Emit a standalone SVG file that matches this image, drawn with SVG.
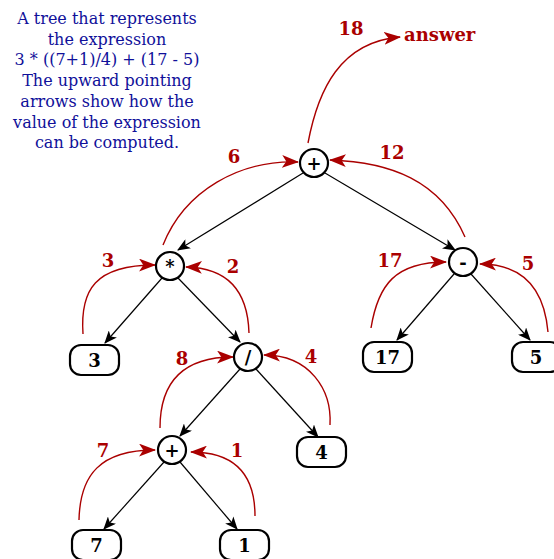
<svg xmlns="http://www.w3.org/2000/svg" width="554" height="559" viewBox="0 0 554 559">
<defs>
<marker id="blk" viewBox="0 0 12 10" refX="11" refY="5" markerWidth="13" markerHeight="11" orient="auto" markerUnits="userSpaceOnUse"><path d="M0,0 L12,5 L0,10 L3,5 Z" fill="#000"/></marker>
<marker id="red" viewBox="0 0 16 12" refX="15" refY="6" markerWidth="17" markerHeight="13" orient="auto" markerUnits="userSpaceOnUse"><path d="M0,0 L16,6 L0,12 L4,6 Z" fill="#aa0000"/></marker>
</defs>
<style>
.cap{font-size:16px;fill:#10109a;text-anchor:middle}
.op{fill:#fff;stroke:#000;stroke-width:2.2}
.leaf{fill:#fff;stroke:#000;stroke-width:2.2}
.nt{font-family:'DejaVu Serif',serif;font-weight:bold;font-size:18px;fill:#000;text-anchor:middle}
.e{stroke:#000;stroke-width:1.2;fill:none;marker-end:url(#blk)}
.r{stroke:#aa0000;stroke-width:1.4;fill:none;marker-end:url(#red)}
.rl{font-family:'DejaVu Serif',serif;font-weight:bold;font-size:18px;fill:#aa0000;text-anchor:middle}
</style>
<g id="caption" font-family="DejaVu Serif, serif">
<text class="cap" x="107" y="24">A tree that represents</text>
<text class="cap" x="107" y="45">the expression</text>
<text class="cap" x="107" y="65">3 * ((7+1)/4) + (17 - 5)</text>
<text class="cap" x="107" y="86">The upward pointing</text>
<text class="cap" x="107" y="107">arrows show how the</text>
<text class="cap" x="107" y="128">value of the expression</text>
<text class="cap" x="107" y="148">can be computed.</text>
</g>
<g id="connectors">
<line class="e" x1="303" y1="173" x2="178" y2="250"/>
<line class="e" x1="325" y1="173" x2="455" y2="250"/>
<line class="e" x1="162" y1="278" x2="105" y2="343"/>
<line class="e" x1="178" y1="278" x2="240" y2="342"/>
<line class="e" x1="240" y1="369" x2="180" y2="436"/>
<line class="e" x1="256" y1="369" x2="318" y2="437"/>
<line class="e" x1="164" y1="462" x2="104" y2="529"/>
<line class="e" x1="180" y1="462" x2="237" y2="529"/>
<line class="e" x1="454" y1="274" x2="397" y2="340"/>
<line class="e" x1="471" y1="274" x2="530" y2="340"/>
<path class="r" d="M308,143 C318,90 340,42 400,37"/>
<path class="r" d="M163,245 C185,190 240,160 298,162"/>
<path class="r" d="M465,237 C440,180 390,162 330,160"/>
<path class="r" d="M83,334 C80,290 95,265 155,265"/>
<path class="r" d="M249,333 C248,300 235,268 186,267"/>
<path class="r" d="M371,328 C378,285 395,262 446,262"/>
<path class="r" d="M548,332 C545,298 530,264 480,264"/>
<path class="r" d="M160,428 C160,385 180,357 233,357"/>
<path class="r" d="M330,425 C332,390 310,355 264,355"/>
<path class="r" d="M79,520 C80,475 100,450 155,450"/>
<path class="r" d="M255,516 C255,480 240,452 191,452"/>
</g>
<g id="labels">
<text class="rl" x="351" y="35">18</text>
<text class="rl" x="404" y="41" style="text-anchor:start">answer</text>
<text class="rl" x="234" y="163">6</text>
<text class="rl" x="392" y="159">12</text>
<text class="rl" x="108" y="267">3</text>
<text class="rl" x="233" y="273">2</text>
<text class="rl" x="390" y="267">17</text>
<text class="rl" x="528" y="270">5</text>
<text class="rl" x="182" y="365">8</text>
<text class="rl" x="311" y="363">4</text>
<text class="rl" x="103" y="457">7</text>
<text class="rl" x="237" y="457">1</text>
</g>
<g id="n-root"><circle class="op" cx="314" cy="163" r="14"/><text class="nt" x="314" y="170">+</text></g>
<g id="n-mul"><circle class="op" cx="170" cy="266" r="14"/><text class="nt" x="170" y="273">*</text></g>
<g id="n-sub"><circle class="op" cx="463" cy="262" r="14"/><text class="nt" x="463" y="269">-</text></g>
<g id="n-div"><circle class="op" cx="248" cy="357" r="14"/><text class="nt" x="248" y="364">/</text></g>
<g id="n-add"><circle class="op" cx="172" cy="450" r="14"/><text class="nt" x="172" y="457">+</text></g>
<g id="l-3"><rect class="leaf" x="70" y="345" width="49" height="30" rx="11"/><text class="nt" x="94.5" y="367">3</text></g>
<g id="l-17"><rect class="leaf" x="363" y="342" width="49" height="30" rx="11"/><text class="nt" x="387.5" y="364">17</text></g>
<g id="l-5"><rect class="leaf" x="512" y="342" width="49" height="30" rx="11"/><text class="nt" x="536" y="364">5</text></g>
<g id="l-4"><rect class="leaf" x="297" y="437" width="49" height="30" rx="11"/><text class="nt" x="321.5" y="459">4</text></g>
<g id="l-7"><rect class="leaf" x="72" y="530" width="49" height="30" rx="11"/><text class="nt" x="96.5" y="552">7</text></g>
<g id="l-1"><rect class="leaf" x="220" y="530" width="49" height="30" rx="11"/><text class="nt" x="244.5" y="552">1</text></g>
</svg>
